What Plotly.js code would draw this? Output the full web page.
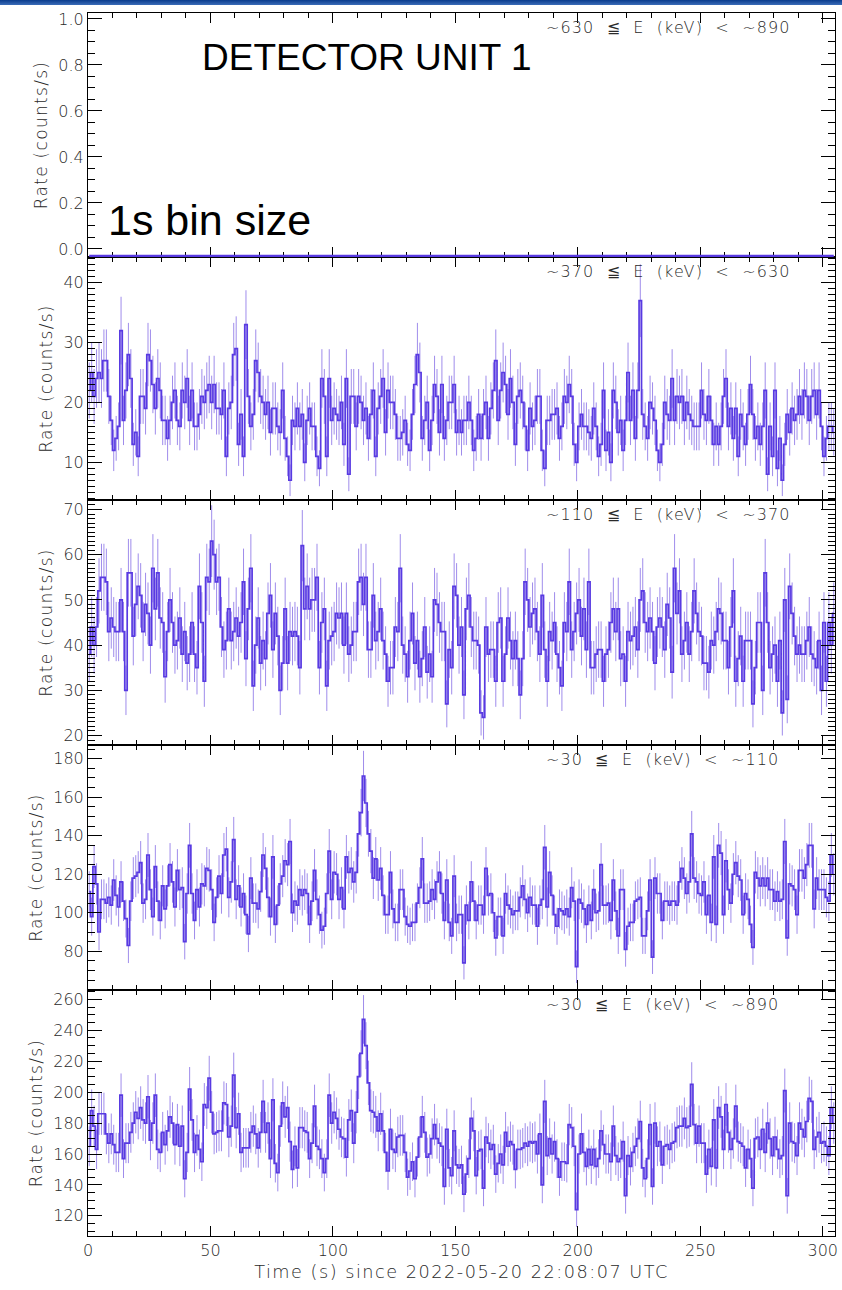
<!DOCTYPE html>
<html>
<head>
<meta charset="utf-8">
<script src="https://cdn.plot.ly/plotly-3.0.1.min.js"></script>
<style>
html, body { margin: 0; padding: 0; background: #ffffff; }
#topbar { position: absolute; left: 0; top: 0; width: 842px; height: 5px; background: linear-gradient(#0a3c8c, #3a6cb8); z-index: 10; }
#chart { width: 842px; height: 1290px; }
text.ytitle, text.y2title, text.y3title, text.y4title, text.y5title { letter-spacing: 1.3px; }
text.xtitle { letter-spacing: 1.5px; }
.annotation[data-index="0"] text, .annotation[data-index="1"] text, .annotation[data-index="2"] text,
.annotation[data-index="3"] text, .annotation[data-index="4"] text { letter-spacing: 1.1px; }
</style>
</head>
<body>
<div id="topbar"></div>
<div id="chart"></div>
<script>
// ---------------- DATA ----------------
const energyBands = [
  "~630 \u2266 E (keV) < ~890",
  "~370 \u2266 E (keV) < ~630",
  "~110 \u2266 E (keV) < ~370",
  "~30 \u2266 E (keV) < ~110",
  "~30 \u2266 E (keV) < ~890"
];
const xTickVals = [0, 50, 100, 150, 200, 250, 300];
const yTickVals1 = [0.0, 0.2, 0.4, 0.6, 0.8, 1.0];
const yTickVals2 = [10, 20, 30, 40];
const yTickVals3 = [20, 30, 40, 50, 60, 70];
const yTickVals4 = [80, 100, 120, 140, 160, 180];
const yTickVals5 = [120, 140, 160, 180, 200, 220, 240, 260];

// ~630-890 keV: the curve lies flat on the bottom of its box for all 305 bins
const nBins = 305;
const flatLevel630_890 = -0.03;
const rate_630_890 = new Array(nBins).fill(flatLevel630_890);

const rate_370_630 = [
22,25,21,24,25,24,27,27,21,17, 12,14,16,32,17,22,28,24,13,15,
11,21,21,19,28,27,23,19,24,22, 17,17,14,17,20,22,17,16,22,20,
24,17,22,16,16,18,21,20,22,23, 20,23,19,19,18,22,11,19,20,28,
29,13,18,11,33,21,16,18,27,25, 21,20,18,20,15,19,19,16,15,22,
14,11,7,17,16,19,16,18,10,17, 19,16,16,11,9,24,21,11,24,17,
19,18,17,20,13,24,8,21,21,16, 21,20,17,19,14,18,22,11,19,21,
24,15,22,20,20,18,14,14,15,17, 13,12,18,23,28,25,14,17,20,12,
17,23,21,15,23,14,17,20,
20,23,15,17,15,17,17,20,17,12, 14,18,14,18,20,14,19,22,27,17,
22,25,23,18,24,20,13,21,22,20, 16,12,19,16,17,21,21,12,9,17,
17,18,18,19,14,16,21,20,23,21, 13,10,16,18,16,16,15,14,19,16,
11,13,22,12,15,10,22,20,15,17, 12,17,25,17,22,14,22,37,18,16,
14,20,19,17,12,10,13,20,18,17, 24,17,21,20,21,17,20,18,17,16,
16,16,22,18,17,21,17,13,16,13, 16,21,24,16,19,14,19,11,18,16,
13,18,23,18,14,16,13,16,22,8, 16,11,22,9,14,7,13,18,15,19,
17,18,21,18,22,21,17,21,22,18, 22,16,11,14,16,16,15
];

const rate_110_370 = [
38,44,40,44,52,55,55,54,43,46, 44,43,43,50,43,30,56,56,42,49,
53,51,43,49,47,40,57,48,56,46, 45,33,43,50,45,40,41,46,38,43,
36,38,45,38,35,53,45,32,55,54, 63,60,54,55,44,39,41,48,41,43,
46,42,45,54,37,48,57,31,40,46, 36,41,37,47,51,39,47,42,30,36,
48,36,43,42,43,42,35,62,48,53, 48,50,50,55,35,45,48,31,41,42,
43,47,46,47,40,47,38,40,43,43, 54,55,49,55,39,39,51,41,43,48,
41,38,32,35,35,44,43,57,40,38, 33,41,47,36,41,33,37,44,34,38,
33,50,49,45,43,43,27,39,
35,53,51,
40,44,29,48,51,44,41,41,40,25, 24,44,38,39,39,32,45,46,32,38,
46,41,37,41,37,29,37,54,50,44, 47,48,43,38,51,39,32,43,41,45,
38,35,31,45,43,54,39,43,47,50, 42,48,39,54,35,35,38,39,39,32,
38,39,45,48,43,48,37,38,32,43, 41,42,44,39,50,52,45,43,46,43,
36,44,46,44,39,49,46,34,57,47, 52,38,41,45,38,43,52,47,43,42,
36,36,34,41,40,43,48,47,41,41, 35,44,52,32,37,42,32,41,41,41,
27,35,45,45,30,56,45,35,38,40, 32,41,25,50,28,53,47,42,38,40,
38,38,41,44,38,37,35,41,30,45, 32,45,40,47
];

const rate_30_110 = [
111,98,124,115,90,107,107,105,108,104, 117,109,103,116,106,97,83,106,118,119,
121,126,105,107,130,112,98,124,106,96, 114,102,114,125,116,103,122,112,113,85,
110,135,110,96,112,103,115,114,123,122, 112,95,108,119,110,130,133,108,116,138,
107,114,103,110,99,89,118,105,105,102, 111,130,123,108,98,129,94,104,115,119,
127,125,137,100,106,104,112,109,112,110, 94,106,122,107,99,91,93,110,132,107,
121,120,107,113,102,129,121,123,116,121, 141,152,171,157,141,132,118,128,117,123,
109,99,99,121,102,95,95,112,112,98, 94,93,95,95,105,113,128,105,105,106,
112,107,116,121,110,96,117,95,
88,119,95,
99,99,74,104,96,116,106,96,104,104, 99,123,109,110,100,87,98,98,88,110,
104,102,99,101,101,108,114,107,100,108, 104,104,93,104,107,134,103,121,109,99,
93,102,101,99,102,98,113,106,72,107, 105,102,94,104,96,112,100,101,125,104,
104,105,96,117,101,88,112,112,81,93, 95,95,106,107,108,88,88,101,117,77,
118,110,110,96,106,106,104,106,106,104, 116,123,118,110,116,141,118,116,110,109,
116,99,109,95,129,94,135,131,99,127, 112,105,120,126,119,117,99,110,107,94,
82,121,118,114,118,114,118,112,112,106, 111,106,107,137,87,115,114,112,99,122,
122,118,125,135,135,102,118,112,112,112, 108,106,130,120
];

const rate_30_890 = [
165,188,178,163,186,186,186,173,167,173, 166,161,161,198,157,167,167,174,180,187,
183,190,182,180,197,169,180,198,163,161, 174,166,175,184,180,166,179,165,178,144,
161,202,182,161,172,163,155,192,190,209, 187,173,174,175,175,193,192,171,178,211,
177,186,161,164,164,164,174,178,173,164, 174,194,174,180,157,195,154,148,178,193,
184,190,168,150,165,151,177,177,175,174, 157,167,191,165,163,157,148,157,198,180,
187,183,176,171,170,158,182,188,167,187, 210,225,247,230,206,188,187,184,175,186,
175,161,149,176,163,161,171,172,172,161, 145,149,155,144,158,171,184,174,158,160,
170,179,170,167,165,139,176,151,
146,175,153,
151,153,134,147,157,183,175,146,162,163, 138,171,167,163,166,147,154,160,153,174,
165,168,166,150,163,163,164,167,165,168, 167,168,160,173,140,194,159,170,160,168,
157,145,155,155,154,179,177,165,124,160, 173,161,152,163,153,163,152,157,175,166,
160,160,155,178,159,155,157,168,133,159, 152,161,165,170,181,151,144,157,179,139,
180,165,168,153,165,166,163,167,168,177, 178,178,183,177,178,205,179,167,178,167,
167,147,163,152,182,151,190,184,163,192, 174,163,170,191,168,167,165,151,163,157,
138,170,171,163,176,161,180,170,159,171, 163,157,159,201,133,180,168,167,159,180,
176,171,181,196,194,163,171,174,167,168, 165,159,190,180
];

// ---------------- LAYOUT HELPERS ----------------
const W = 842, H = 1290;
const M = { l: 88, r: 7, t: 13, b: 54 };
const plotW = W - M.l - M.r, plotH = H - M.t - M.b;
const panelEdges = [13, 257, 500, 745, 990, 1236]; // pixel rows of panel borders
const px2py = Y => (H - M.b - Y) / plotH;
const px2px = X => (X - M.l) / plotW;

const series = [rate_630_890, rate_370_630, rate_110_370, rate_30_110, rate_30_890];
const yRanges = [[-0.035, 1.026], [3.7, 44.3], [17.9, 72.1], [59.9, 187.1], [107, 266]];
const yTicks = [yTickVals1, yTickVals2, yTickVals3, yTickVals4, yTickVals5];
const yMinor = [0.05, 1, 1, 5, 5];

const lineColor = 'rgb(88,58,226)';
const errColor = 'rgba(100,70,222,0.62)';
const tickFont = { family: 'DejaVu Sans, Liberation Sans, sans-serif', size: 16, color: '#2a2a2a', weight: 200 };

const traces = [];
const layout = {
  width: W, height: H,
  margin: M,
  paper_bgcolor: '#ffffff',
  plot_bgcolor: '#ffffff',
  showlegend: false,
  annotations: [],
};

// panel k (0 = top) uses axis id n = 5 - k, so the top panel is drawn last
series.forEach((vals, k) => {
  const n = 5 - k;
  const sfx = n === 1 ? '' : String(n);
  const isTop = k === 0, isBottom = k === 4;
  const tr = {
    type: 'scatter',
    mode: 'lines',
    x: vals.map((_, j) => j + 0.5),
    y: vals,
    xaxis: 'x' + sfx,
    yaxis: 'y' + sfx,
    line: { shape: 'hvh', color: lineColor, width: isTop ? 2.4 : 1.7 },
    hoverinfo: 'skip'
  };
  if (!isTop) {
    tr.error_y = { type: 'sqrt', visible: true, color: errColor, thickness: 1, width: 0 };
  }
  traces.push(tr);

  const top = panelEdges[k], bot = panelEdges[k + 1];
  layout['xaxis' + sfx] = {
    anchor: 'y' + sfx,
    range: [0, 305],
    tickmode: 'array',
    tickvals: xTickVals,
    ticktext: xTickVals.map(String),
    ticks: 'inside', ticklen: 10, tickwidth: 1, tickcolor: '#000',
    minor: { ticks: 'inside', ticklen: 5, dtick: 10, tick0: 0, tickcolor: '#000', tickwidth: 1, showgrid: false },
    showline: true, linecolor: '#000', linewidth: 1, mirror: 'ticks',
    showgrid: false, zeroline: false,
    showticklabels: isBottom,
    tickfont: tickFont,
    layer: isTop ? 'below traces' : 'above traces',
    fixedrange: true
  };
  if (n !== 1) layout['xaxis' + sfx].matches = 'x';
  if (isBottom) {
    layout['xaxis' + sfx].title = {
      text: 'Time (s) since 2022-05-20 22:08:07 UTC',
      font: { family: 'DejaVu Sans, sans-serif', size: 17.7, color: '#2a2a2a', weight: 200 },
      standoff: 6
    };
  }
  layout['yaxis' + sfx] = {
    anchor: 'x' + sfx,
    domain: [px2py(bot), px2py(top)],
    range: yRanges[k],
    tickmode: 'array',
    tickvals: yTicks[k],
    ticktext: yTicks[k].map(v => isTop ? v.toFixed(1) : String(v)),
    ticks: 'inside', ticklen: 14, tickwidth: 1, tickcolor: '#000',
    minor: { ticks: 'inside', ticklen: 7, dtick: yMinor[k], tick0: 0, tickcolor: '#000', tickwidth: 1, showgrid: false },
    showline: true, linecolor: '#000', linewidth: 1, mirror: 'ticks',
    showgrid: false, zeroline: false,
    tickfont: tickFont,
    title: {
      text: 'Rate (counts/s)',
      font: { family: 'DejaVu Sans, sans-serif', size: 17, color: '#2a2a2a', weight: 200 },
      standoff: 6
    },
    fixedrange: true
  };
});

// energy-band labels (annotation indices 0..4)
energyBands.forEach((label, k) => {
  layout.annotations.push({
    xref: 'paper', yref: 'paper',
    x: px2px(544), y: px2py(panelEdges[k] + 14.5),
    xanchor: 'left', yanchor: 'middle', align: 'left',
    text: label.replace(/ /g, '\u00a0\u00a0'),
    showarrow: false,
    font: { family: 'DejaVu Sans, sans-serif', size: 16, color: '#2a2a2a', weight: 200 }
  });
});

layout.annotations.push({
  xref: 'paper', yref: 'paper',
  x: px2px(200), y: px2py(57),
  xanchor: 'left', yanchor: 'middle',
  text: 'DETECTOR UNIT 1', showarrow: false,
  font: { family: 'Liberation Sans, Arial, sans-serif', size: 37, color: '#000' }
});
layout.annotations.push({
  xref: 'paper', yref: 'paper',
  x: px2px(106), y: px2py(220),
  xanchor: 'left', yanchor: 'middle',
  text: '1s bin size', showarrow: false,
  font: { family: 'Liberation Sans, Arial, sans-serif', size: 43, color: '#000' }
});

Plotly.newPlot('chart', traces, layout, { staticPlot: true, displayModeBar: false });
</script>
</body>
</html>
